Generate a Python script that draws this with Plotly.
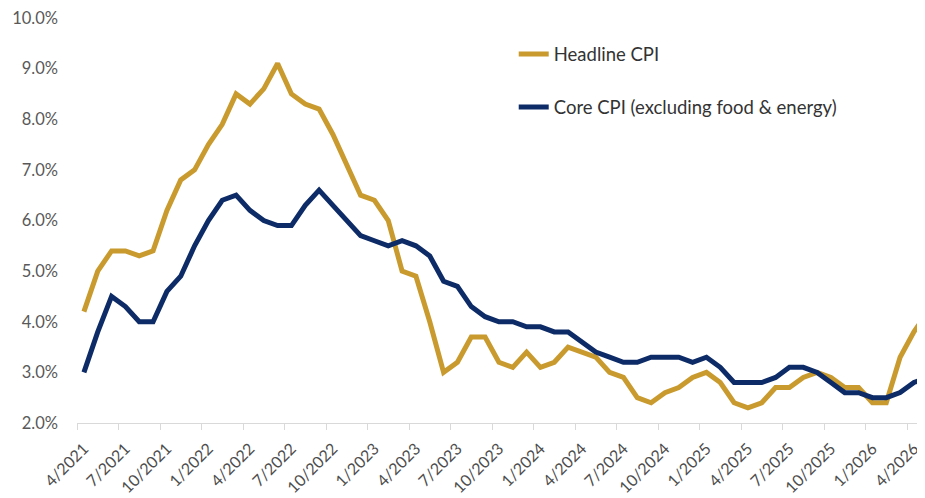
import plotly.graph_objects as go

# Monthly categories 4/2021 .. 5/2026
months = []
mm, yy = 4, 2021
for _ in range(62):
    months.append(f"{mm}/{yy}")
    mm += 1
    if mm > 12:
        mm, yy = 1, yy + 1

headline = [4.2, 5.0, 5.4, 5.4, 5.3, 5.4, 6.2, 6.8, 7.0,
            7.5, 7.9, 8.5, 8.3, 8.6, 9.1, 8.5, 8.3, 8.2, 7.7, 7.1, 6.5,
            6.4, 6.0, 5.0, 4.9, 4.0, 3.0, 3.2, 3.7, 3.7, 3.2, 3.1, 3.4,
            3.1, 3.2, 3.5, 3.4, 3.3, 3.0, 2.9, 2.5, 2.4, 2.6, 2.7, 2.9,
            3.0, 2.8, 2.4, 2.3, 2.4, 2.7, 2.7, 2.9, 3.0, 2.9, 2.7, 2.7,
            2.4, 2.4, 3.3, 3.8, 4.2]

core = [3.0, 3.8, 4.5, 4.3, 4.0, 4.0, 4.6, 4.9, 5.5,
        6.0, 6.4, 6.5, 6.2, 6.0, 5.9, 5.9, 6.3, 6.6, 6.3, 6.0, 5.7,
        5.6, 5.5, 5.6, 5.5, 5.3, 4.8, 4.7, 4.3, 4.1, 4.0, 4.0, 3.9,
        3.9, 3.8, 3.8, 3.6, 3.4, 3.3, 3.2, 3.2, 3.3, 3.3, 3.3, 3.2,
        3.3, 3.1, 2.8, 2.8, 2.8, 2.9, 3.1, 3.1, 3.0, 2.8, 2.6, 2.6,
        2.5, 2.5, 2.6, 2.8, 2.9]

tick_labels = months[0:61:3]
y_ticks = [2, 3, 4, 5, 6, 7, 8, 9, 10]

x_idx = list(range(len(months)))
tick_pos = x_idx[0:61:3]

GOLD = "#C99A2E"
NAVY = "#0D2B66"
GRAY_TXT = "#595959"
FONT = "Lato"

fig = go.Figure()
fig.add_trace(go.Scatter(x=x_idx, y=headline, mode="lines", name="Headline CPI",
                         line=dict(color=GOLD, width=5), legendgroup="a"))
fig.add_trace(go.Scatter(x=x_idx, y=core, mode="lines",
                         name="Core CPI (excluding food & energy)",
                         line=dict(color=NAVY, width=5), legendgroup="b"))

fig.update_layout(
    width=917, height=490,
    margin=dict(l=69, r=0, t=10, b=75, autoexpand=False),
    paper_bgcolor="white", plot_bgcolor="white",
    font=dict(family=FONT, size=16, color=GRAY_TXT),
    showlegend=True,
    legend=dict(x=0.515, y=0.957, xanchor="left", yanchor="top",
                bgcolor="rgba(0,0,0,0)", tracegroupgap=26,
                font=dict(family=FONT, size=18.5, color="#333333")),
)

fig.update_xaxes(
    range=[-0.5, 60.8],
    tickmode="array", tickvals=tick_pos, ticktext=tick_labels,
    tickangle=-45,
    ticks="outside", ticklen=9, tickcolor="rgba(0,0,0,0)",
    showline=True, linecolor="#D9D9D9", linewidth=1,
    showgrid=False, zeroline=False, automargin=False,
    ticklabeloverflow="allow",
    minor=dict(tickmode="array", tickvals=[p - 0.5 for p in tick_pos],
               ticks="outside", ticklen=6, tickcolor="#D9D9D9", showgrid=False),
    tickfont=dict(family=FONT, size=16, color="#4D4D4D"),
)
fig.update_yaxes(
    range=[2, 10],
    tickmode="array", tickvals=y_ticks,
    ticktext=[f"{v:.1f}%" for v in y_ticks],
    showline=False, showgrid=False, zeroline=False, automargin=False,
    ticklabeloverflow="allow",
    ticks="", ticklabelstandoff=18,
    tickfont=dict(family=FONT, size=16.5, color=GRAY_TXT),
)

fig.write_html("out.html")
